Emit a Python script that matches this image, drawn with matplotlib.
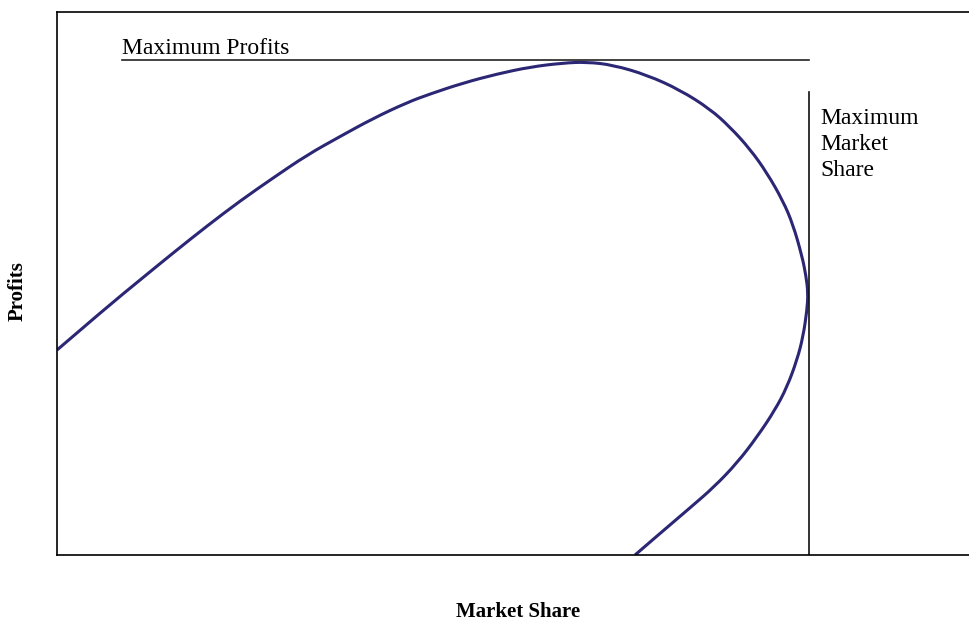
import matplotlib.pyplot as plt
from matplotlib.path import Path
from matplotlib.patches import PathPatch

# curve (market share vs profits, 0-100 scale)
share = [0.0, 5.48, 9.09, 12.71, 16.43, 20.04, 23.66, 27.38, 31.00, 34.61, 38.34, 40.85,
         44.47, 48.19, 51.81, 55.42, 58.05, 60.90, 64.62, 68.24, 71.52, 73.71, 75.90,
         77.77, 79.52, 80.61, 81.60, 82.04, 82.26, 82.15, 81.71, 81.05, 79.96, 78.64,
         76.67, 74.48, 71.96, 69.44, 65.72, 63.31]
profits = [37.75, 45.67, 50.64, 55.62, 60.59, 65.19, 69.43, 73.66, 77.07, 80.39, 83.33, 84.90,
           86.92, 88.58, 89.87, 90.61, 90.79, 90.24, 88.40, 85.64, 82.14, 78.82, 74.77,
           70.35, 65.19, 60.87, 55.06, 51.38, 48.25, 45.12, 40.15, 35.91, 30.94, 26.70,
           21.73, 16.94, 12.52, 8.84, 3.50, 0.0]

max_profit = 91.2
max_profit_from = 7.1
max_share = 82.4
max_share_top = 85.3
share_label = ['Maximum', 'Market', 'Share']
share_label_y = [79.4, 74.6, 69.8]

plt.rcParams['font.family'] = ['Liberation Serif', 'DejaVu Serif']

fig = plt.figure(figsize=(9.7, 6.22), dpi=100)
ax = fig.add_axes([57/970, 67/622, 1 - 57/970, 543/622])

# smooth curve: quadratic bezier pieces through the midpoints of the read points
pts = list(zip(share, profits))
verts = [pts[0]]
codes = [Path.MOVETO]
for i in range(1, len(pts) - 2):
    mid = ((pts[i][0] + pts[i+1][0]) / 2, (pts[i][1] + pts[i+1][1]) / 2)
    verts += [pts[i], mid]
    codes += [Path.CURVE3, Path.CURVE3]
verts += [pts[-2], pts[-1]]
codes += [Path.CURVE3, Path.CURVE3]
ax.add_patch(PathPatch(Path(verts, codes), facecolor='none', edgecolor='#2c2774', lw=2.2))

ax.plot([max_profit_from, max_share], [max_profit, max_profit], color='#222222', lw=1.2)
ax.plot([max_share, max_share], [0, max_share_top], color='#111111', lw=1.2)

ax.text(max_profit_from, 92.3, 'Maximum Profits', fontsize=17, va='baseline', ha='left')
for word, yy in zip(share_label, share_label_y):
    ax.text(max_share + 1.2, yy, word, fontsize=17, va='baseline', ha='left')

ax.set_xlim(0, 100)
ax.set_ylim(0, 100)
ax.set_xticks([])
ax.set_yticks([])
ax.spines['right'].set_visible(False)
for s in ['left', 'top', 'bottom']:
    ax.spines[s].set_linewidth(1.2)

fig.text(518/970, 1 - 612/622, 'Market Share', fontsize=15, fontweight='bold', ha='center', va='center')
fig.text(18/970, 1 - 291/622, 'Profits', fontsize=15, fontweight='bold', rotation=90, ha='center', va='center')

fig.savefig('out.png', dpi=100)
